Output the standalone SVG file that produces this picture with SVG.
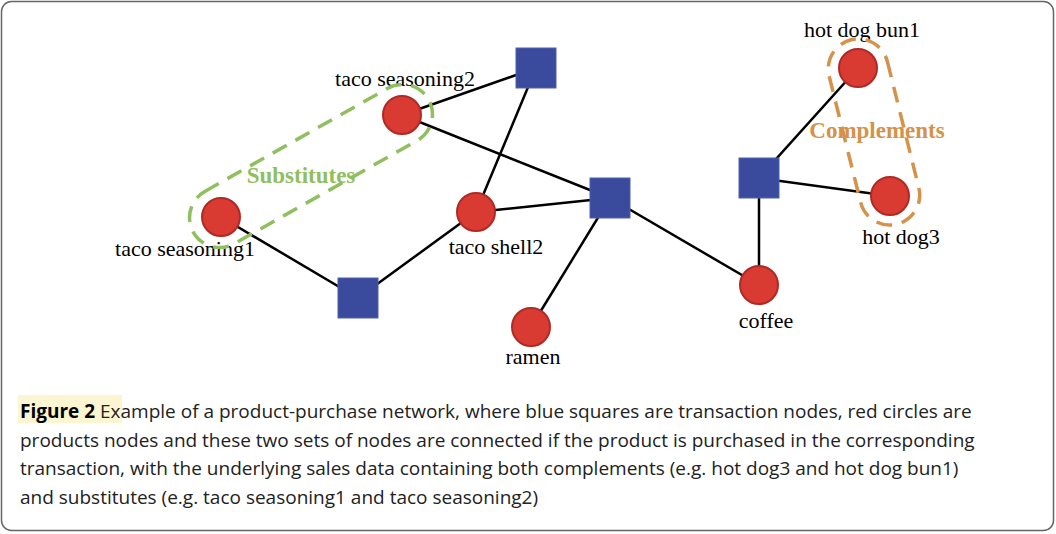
<svg xmlns="http://www.w3.org/2000/svg" width="1056" height="534" viewBox="0 0 1056 534">
<style>
.p{fill:#d93a32;stroke:#b02a25;stroke-width:2}
.t{fill:#3a4a9c;stroke:#5060b0;stroke-width:1}
.l{font-family:"Liberation Serif",serif;font-size:22px;fill:#000}
.e{stroke:#000;stroke-width:2.5;fill:none}
.c{font-family:"Open Sans",sans-serif;font-size:19px;fill:#222}
</style>
<rect x="1.5" y="1.5" width="1052" height="529" rx="10" fill="#fff" stroke="#666" stroke-width="1.5"/>
<g id="connectors">
<line class="e" x1="402" y1="115" x2="536" y2="68"/>
<line class="e" x1="402" y1="115" x2="610" y2="198"/>
<line class="e" x1="476" y1="212" x2="536" y2="68"/>
<line class="e" x1="476" y1="212" x2="610" y2="198"/>
<line class="e" x1="476" y1="212" x2="358" y2="298"/>
<line class="e" x1="221" y1="217" x2="358" y2="298"/>
<line class="e" x1="531" y1="327" x2="610" y2="198"/>
<line class="e" x1="759" y1="285" x2="610" y2="198"/>
<line class="e" x1="759" y1="285" x2="759" y2="178"/>
<line class="e" x1="858" y1="68" x2="759" y2="178"/>
<line class="e" x1="890" y1="196" x2="759" y2="178"/>
</g>
<g id="sq1"><rect class="t" x="516" y="48" width="40" height="40"/></g>
<g id="sq2"><rect class="t" x="590" y="178" width="40" height="40"/></g>
<g id="sq3"><rect class="t" x="338" y="278" width="40" height="40"/></g>
<g id="sq4"><rect class="t" x="739" y="158" width="40" height="40"/></g>
<g id="ts2"><circle class="p" cx="402" cy="115" r="19"/><text class="l" x="405" y="86" text-anchor="middle">taco seasoning2</text></g>
<g id="ts1"><circle class="p" cx="221" cy="217" r="19"/><text class="l" x="185" y="256" text-anchor="middle">taco seasoning1</text></g>
<g id="tsh"><circle class="p" cx="476" cy="212" r="19"/><text class="l" x="496" y="254" text-anchor="middle">taco shell2</text></g>
<g id="ramen"><circle class="p" cx="531" cy="327" r="19"/><text class="l" x="533" y="364" text-anchor="middle">ramen</text></g>
<g id="coffee"><circle class="p" cx="759" cy="285" r="19"/><text class="l" x="766" y="328" text-anchor="middle">coffee</text></g>
<g id="hdb"><circle class="p" cx="858" cy="68" r="19"/><text class="l" x="862" y="37" text-anchor="middle">hot dog bun1</text></g>
<g id="hd3"><circle class="p" cx="890" cy="196" r="19"/><text class="l" x="901" y="244" text-anchor="middle">hot dog3</text></g>
<g id="substitutes">
<rect x="176" y="136" width="270" height="60" rx="30" transform="rotate(-29.4 311 166)" fill="none" stroke="#8fbf5f" stroke-width="3.5" stroke-dasharray="16 10"/>
<text x="301" y="183" text-anchor="middle" font-family="Liberation Serif,serif" font-weight="bold" font-size="23" fill="#8fbf5f">Substitutes</text>
</g>
<g id="complements">
<rect x="779" y="102" width="190" height="60" rx="30" transform="rotate(76 874 132)" fill="none" stroke="#d4924a" stroke-width="3.5" stroke-dasharray="16 10"/>
<text x="877" y="138" text-anchor="middle" font-family="Liberation Serif,serif" font-weight="bold" font-size="23" fill="#d4924a">Complements</text>
</g>
<rect x="18" y="395" width="104" height="28" fill="#fbf5d2"/>
<text class="c" x="20" y="418"><tspan font-weight="bold" fill="#000">Figure 2</tspan>  Example of a product-purchase network, where blue squares are transaction nodes, red circles are</text>
<text class="c" x="20" y="447">products nodes and these two sets of nodes are connected if the product is purchased in the corresponding</text>
<text class="c" x="20" y="475">transaction, with the underlying sales data containing both complements (e.g. hot dog3 and hot dog bun1)</text>
<text class="c" x="20" y="504">and substitutes (e.g. taco seasoning1 and taco seasoning2)</text>
</svg>
